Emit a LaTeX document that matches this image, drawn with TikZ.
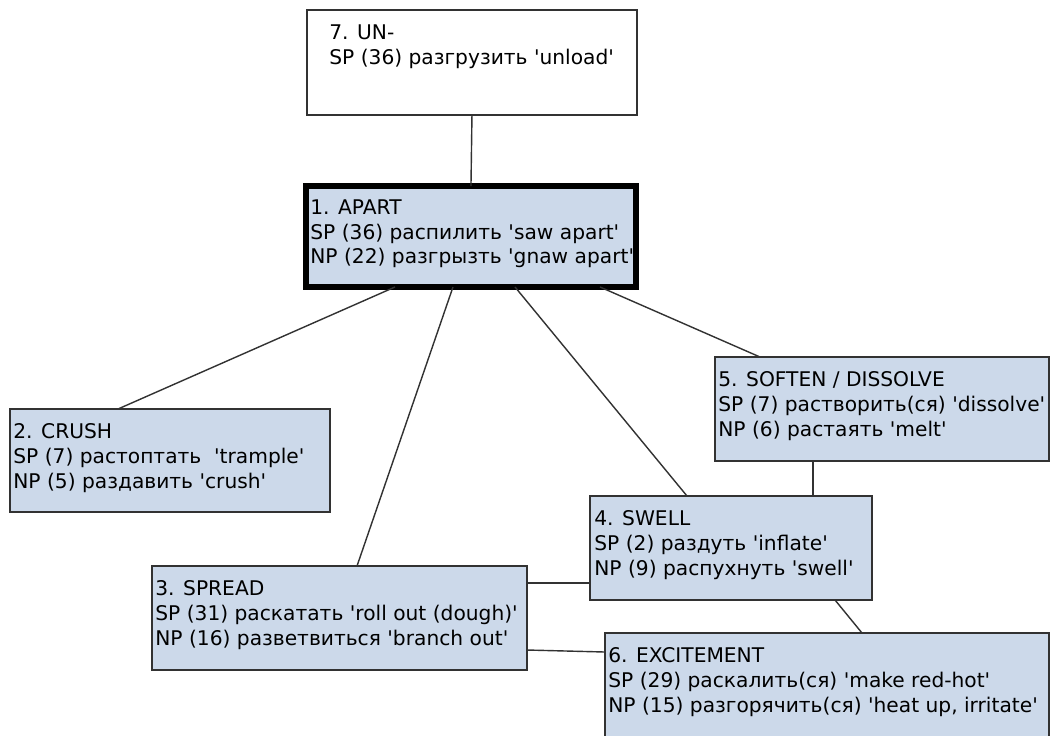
\documentclass[tikz,border=0pt]{standalone}
\usepackage{fontspec}
\setmainfont{DejaVu Sans}
\usepackage{tikz}
\usetikzlibrary{positioning, calc}
\definecolor{boxfill}{RGB}{204,217,234}
\definecolor{edgegray}{RGB}{50,50,50}
\newcommand{\q}{\textquotesingle}

\begin{document}
\begin{tikzpicture}[
			x=0.02cm, y=-0.02cm,
			box/.style={rectangle, draw=edgegray, fill=boxfill, line width=0.8pt, anchor=north west, outer sep=0pt, inner sep=0pt},
			txt/.style={anchor=north west, align=left, inner sep=0pt, font=\fontsize{11.5}{14.2}\selectfont},
			link/.style={draw=edgegray, line width=0.8pt}
			]
			\clip (0,0) rectangle (1050,735);
			\fill[white] (0,0) rectangle (1050,735);
			% Kaestchen
			\node[box, fill=white, minimum width=6.6cm, minimum height=2.1cm] (un) at (307,10) {};
			\node[box, draw=black, line width=3.5pt, minimum width=6.6cm, minimum height=2.02cm] (apart) at (306,186) {};
			\node[box, minimum width=6.4cm, minimum height=2.06cm] (crush) at (10,409) {};
			\node[box, minimum width=7.5cm, minimum height=2.08cm] (spread) at (152,566) {};
			\node[box, minimum width=5.64cm, minimum height=2.08cm] (swell) at (590,496) {};
			\node[box, minimum width=6.68cm, minimum height=2.08cm] (soften) at (715,357) {};
			\node[box, minimum width=8.88cm, minimum height=2.4cm] (excite) at (605,633) {};
			% Texte
			\node[txt] (un-t) at ($(un.north west)+(22,14)$) {7. UN-\\SP (36) разгрузить \q unload\q};
			\node[txt] (apart-t) at ($(apart.north west)+(4,13)$) {1. APART\\SP (36) распилить \q saw apart\q\\NP (22) разгрызть \q gnaw apart\q};
			\node[txt] (crush-t) at ($(crush.north west)+(3,14)$) {2. CRUSH\\SP (7) растоптать\ \ \q trample\q\\NP (5) раздавить \q crush\q};
			\node[txt] (spread-t) at ($(spread.north west)+(3,14)$) {3. SPREAD\\SP (31) раскатать \q roll out (dough)\q\\NP (16) разветвиться \q branch out\q};
			\node[txt] (swell-t) at ($(swell.north west)+(4,14)$) {4. SWELL\\SP (2) раздуть \q inflate\q\\NP (9) распухнуть \q swell\q};
			\node[txt] (soften-t) at ($(soften.north west)+(3,14)$) {5. SOFTEN / DISSOLVE\\SP (7) растворить(ся) \q dissolve\q\\NP (6) растаять \q melt\q};
			\node[txt] (excite-t) at ($(excite.north west)+(3,14)$) {6. EXCITEMENT\\SP (29) раскалить(ся) \q make red-hot\q\\NP (15) разгорячить(ся) \q heat up, irritate\q};
			% UN- -> APART
			\draw[link] (un.south) -- (apart.north);
			% APART -> Unterbedeutungen
			\draw[link] ($(apart.south west)+(89,0)$) -- ($(crush.north west)+(108,0)$);
			\draw[link] ($(apart.south west)+(147,0)$) -- ($(spread.north west)+(205,0)$);
			\draw[link] ($(apart.south west)+(209,0)$) -- ($(swell.north west)+(97,0)$);
			\draw[link] ($(apart.south west)+(294,0)$) -- ($(soften.north west)+(45,0)$);
			% Querverbindungen
			\draw[link] ($(soften.south west)+(98,0)$) -- ($(swell.north west)+(223,0)$);
			\draw[link] ($(spread.north east)+(0,17)$) -- ($(swell.north west)+(0,87)$);
			\draw[link] ($(spread.north east)+(0,84)$) -- ($(excite.north west)+(0,19)$);
			\draw[link] ($(swell.south west)+(245,0)$) -- ($(excite.north west)+(257,0)$);
		\end{tikzpicture}
\end{document}
